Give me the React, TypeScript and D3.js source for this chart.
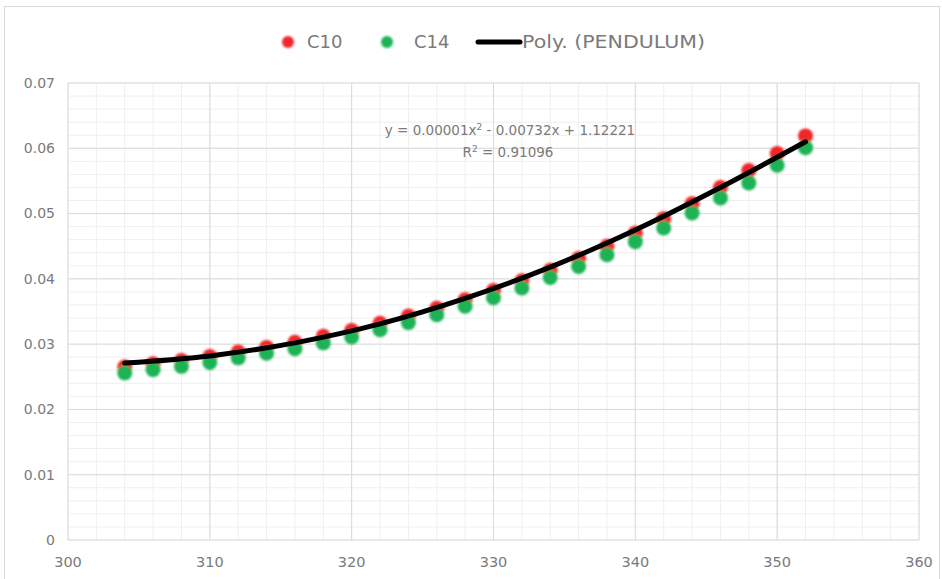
import React from "react";
import * as d3 from "d3";

const xValues = [304, 306, 308, 310, 312, 314, 316, 318, 320, 322, 324, 326, 328, 330, 332, 334, 336, 338, 340, 342, 344, 346, 348, 350, 352];
const c10 = [0.0265, 0.0270, 0.0275, 0.0281, 0.0288, 0.0295, 0.0303, 0.0312, 0.0321, 0.0332, 0.0343, 0.0355, 0.0368, 0.0382, 0.0397, 0.0413, 0.0431, 0.0450, 0.0470, 0.0492, 0.0515, 0.0540, 0.0566, 0.0592, 0.0619];
const c14 = [0.0256, 0.0261, 0.0266, 0.0272, 0.0279, 0.0286, 0.0293, 0.0302, 0.0311, 0.0322, 0.0333, 0.0345, 0.0358, 0.0371, 0.0386, 0.0402, 0.0419, 0.0437, 0.0457, 0.0478, 0.0501, 0.0524, 0.0547, 0.0574, 0.0601];
const trendX = [304, 310, 316, 322, 328, 334, 340, 346, 352];
const trendY = [0.0271, 0.0282, 0.0302, 0.0331, 0.0370, 0.0418, 0.0475, 0.0540, 0.0610];
const xTicks = [300, 310, 320, 330, 340, 350, 360];
const yTicks = [0, 0.01, 0.02, 0.03, 0.04, 0.05, 0.06, 0.07];
const legendLabels = ["C10", "C14", "Poly. (PENDULUM)"];
const equationText = "0.00001x";
const equationRest = " - 0.00732x + 1.12221";
const r2Text = " = 0.91096";

const W = 942, H = 579;
const L = 68, R = 919, T = 83, B = 540;
const FONT = "'DejaVu Sans', sans-serif";
const TXT = "#7a7a7a";

export default function App() {
  const x = d3.scaleLinear().domain([300, 360]).range([L, R]);
  const y = d3.scaleLinear().domain([0, 0.07]).range([B, T]);
  const minorX = d3.range(300, 360.001, 2);
  const minorY = d3.range(0, 0.07001, 0.002);
  const line = d3.line<number>()
    .x((_, i) => x(trendX[i]))
    .y((d) => y(d))
    .curve(d3.curveCatmullRom.alpha(0.5));

  return (
    <svg width={W} height={H} style={{ position: "absolute", left: 0, top: 0, background: "#fff" }}>
      <defs>
        <filter id="soft" x="-50%" y="-50%" width="200%" height="200%">
          <feGaussianBlur stdDeviation="1" />
        </filter>
      </defs>
      <rect x={4.5} y={6.5} width={935} height={600} fill="#fff" stroke="#d9d9d9" strokeWidth={1} />
      {minorX.map((v) => (
        <line key={"mx" + v} x1={x(v)} x2={x(v)} y1={T} y2={B} stroke="#efefef" strokeWidth={1} />
      ))}
      {minorY.map((v, i) => (
        <line key={"my" + i} x1={L} x2={R} y1={y(v)} y2={y(v)} stroke="#efefef" strokeWidth={1} />
      ))}
      {xTicks.map((v) => (
        <line key={"gx" + v} x1={x(v)} x2={x(v)} y1={T} y2={B} stroke="#dadada" strokeWidth={1} />
      ))}
      {yTicks.map((v) => (
        <line key={"gy" + v} x1={L} x2={R} y1={y(v)} y2={y(v)} stroke="#dadada" strokeWidth={1} />
      ))}
      {yTicks.map((v) => (
        <text key={"ty" + v} x={55} y={y(v)} dy="0.35em" textAnchor="end" fontFamily={FONT} fontSize={14} fill={TXT}>
          {v === 0 ? "0" : d3.format(".2f")(v)}
        </text>
      ))}
      {xTicks.map((v) => (
        <text key={"tx" + v} x={x(v)} y={567} textAnchor="middle" fontFamily={FONT} fontSize={14.5} fill={TXT}>
          {v}
        </text>
      ))}
      <text x={510} y={135} textAnchor="middle" fontFamily={FONT} fontSize={13.5} fill={TXT}>
        y = {equationText}<tspan fontSize={9} dy={-5}>2</tspan><tspan dy={5}>{equationRest}</tspan>
      </text>
      <text x={508} y={157} textAnchor="middle" fontFamily={FONT} fontSize={13.5} fill={TXT}>
        R<tspan fontSize={9} dy={-5}>2</tspan><tspan dy={5}>{r2Text}</tspan>
      </text>
      <g filter="url(#soft)">
        {c10.map((v, i) => (
          <circle key={"r" + i} cx={x(xValues[i])} cy={y(v)} r={7.5} fill="#f2262b" />
        ))}
        {c14.map((v, i) => (
          <circle key={"g" + i} cx={x(xValues[i])} cy={y(v)} r={7.5} fill="#1cb255" />
        ))}
      </g>
      <path d={line(trendY) || ""} fill="none" stroke="#000" strokeWidth={5} strokeLinecap="round" />
      <g filter="url(#soft)">
        <circle cx={288} cy={42} r={6} fill="#f2262b" />
        <circle cx={387} cy={42} r={6} fill="#1cb255" />
      </g>
      <text x={307} y={48} fontFamily={FONT} fontSize={18} fill={TXT}>{legendLabels[0]}</text>
      <text x={414} y={48} fontFamily={FONT} fontSize={18} fill={TXT}>{legendLabels[1]}</text>
      <line x1={478} x2={520} y1={42} y2={42} stroke="#000" strokeWidth={5} strokeLinecap="round" />
      <text x={522} y={48} fontFamily={FONT} fontSize={18} fill={TXT} textLength={183} lengthAdjust="spacingAndGlyphs">{legendLabels[2]}</text>
    </svg>
  );
}
